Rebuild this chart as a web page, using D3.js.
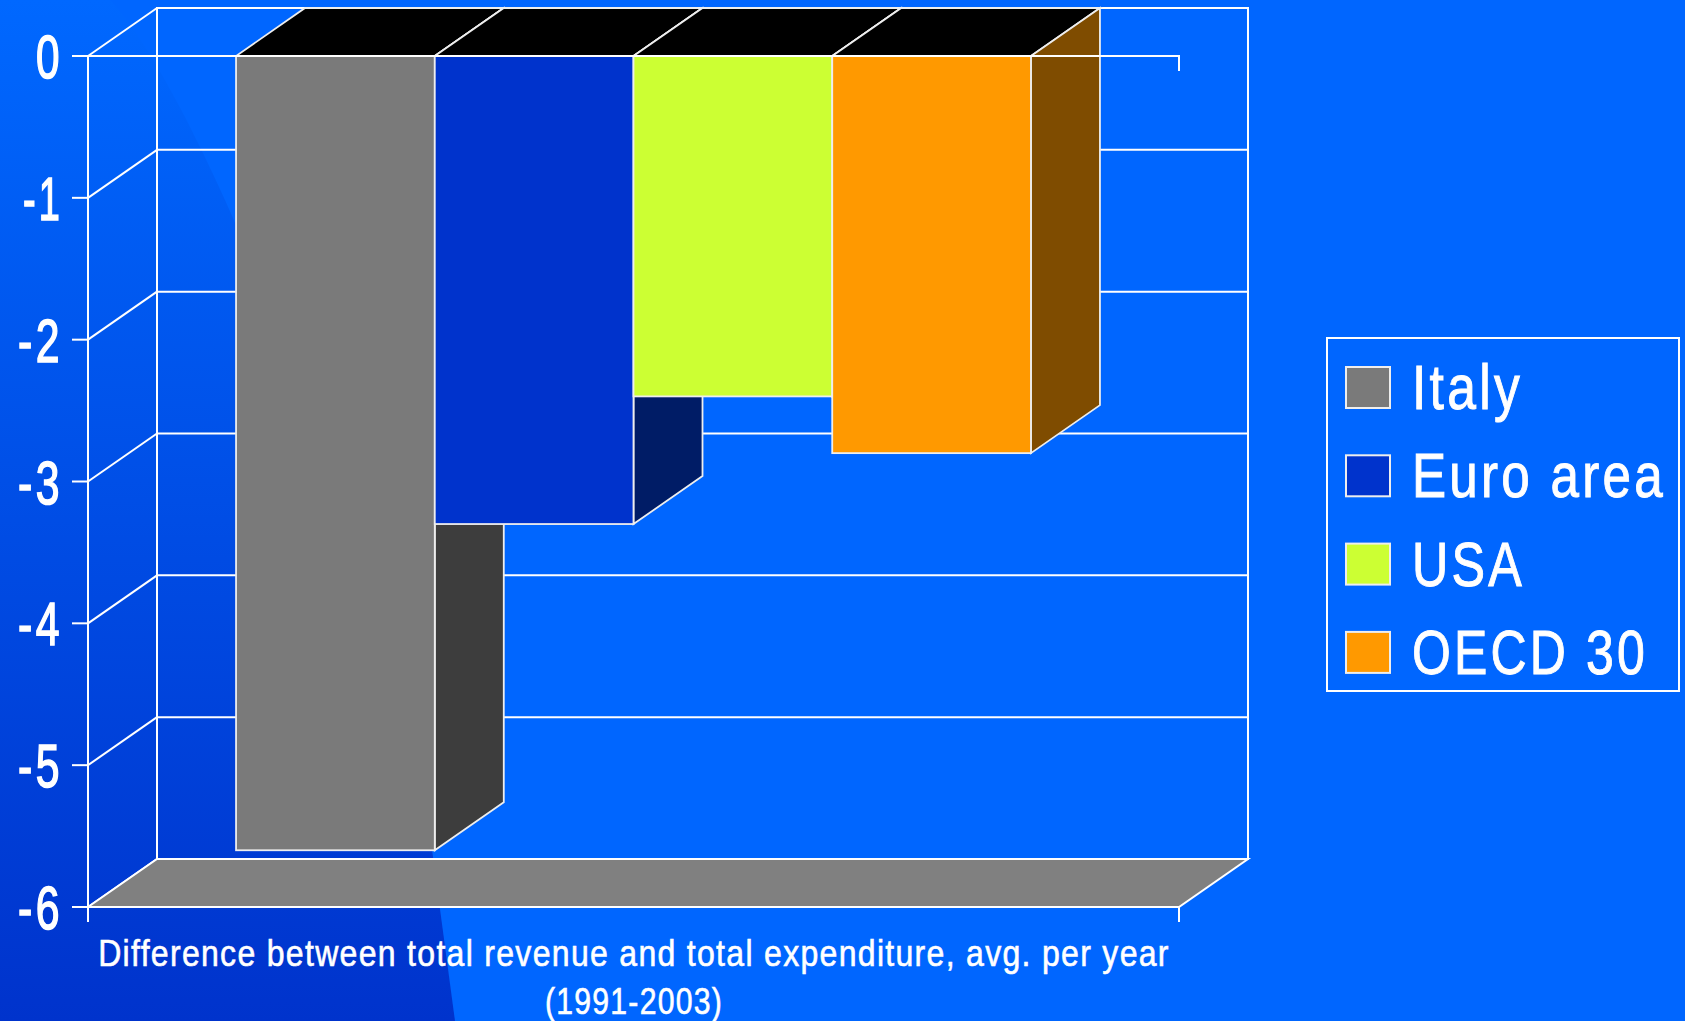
<!DOCTYPE html>
<html>
<head>
<meta charset="utf-8">
<script src="https://cdn.jsdelivr.net/npm/d3@7"></script>
<style>
  html, body { margin: 0; padding: 0; background: #0066ff; overflow: hidden; }
  svg { display: block; }
  text { font-family: "Liberation Sans Narrow", "Arial Narrow", "Liberation Sans", Arial, sans-serif; fill: #ffffff; stroke: #ffffff; }
</style>
</head>
<body>
<svg id="chart" width="1685" height="1021"></svg>
<script>
// Average yearly budget balance (revenue minus expenditure), % points
const categories = ["Italy", "Euro area", "USA", "OECD 30"];
const values = [-5.6, -3.3, -2.4, -2.8];
const yTicks = [0, -1, -2, -3, -4, -5, -6];
const frontColors = ["#7a7a7a", "#0033cc", "#ccff33", "#ff9900"];
const sideColors = ["#3d3d3d", "#001c66", "#667f1a", "#7f4c00"];
const titleLines = [
  "Difference between total revenue and total expenditure, avg. per year",
  "(1991-2003)"
];

const W = 1685, H = 1021;
const svg = d3.select("#chart");

// Plot box (front plane) and the 3D depth offset
const plot = { left: 88, right: 1179, top: 56, bottom: 907 };
const depth = { dx: 69, dy: -48 };
const line = "#ffffff";

const y = d3.scaleLinear().domain([-6, 0]).range([plot.bottom, plot.top]);
const x = d3.scaleBand()
  .domain(categories)
  .range([plot.left, plot.right])
  .paddingInner(0)
  .paddingOuter(0.745);

// Squeeze a text horizontally into a given width (condensed face look)
function fitWidth(node, width, anchorX, baseY) {
  const w = node.getComputedTextLength();
  const k = w > 0 ? width / w : 1;
  d3.select(node).attr("transform", `translate(${anchorX},${baseY}) scale(${k},1)`);
}

// ---- background with darker swoosh on the left ----
const defs = svg.append("defs");
const grad = defs.append("linearGradient")
  .attr("id", "swoosh").attr("x1", 0).attr("y1", 0).attr("x2", 0).attr("y2", 1);
grad.append("stop").attr("offset", "0%").attr("stop-color", "#0068ff");
grad.append("stop").attr("offset", "100%").attr("stop-color", "#0033cc");

svg.append("rect").attr("width", W).attr("height", H).attr("fill", "#0066ff");
svg.append("path")
  .attr("d", "M0,0 L110,0 C190,85 330,420 420,760 L455,1021 L0,1021 Z")
  .attr("fill", "url(#swoosh)");

const P = (pts) => "M" + pts.map(p => p.join(",")).join("L") + "Z";

// ---- back wall ----
const backL = plot.left + depth.dx, backR = plot.right + depth.dx;
const g = svg.append("g");

g.append("rect")
  .attr("x", backL).attr("y", y(0) + depth.dy)
  .attr("width", backR - backL).attr("height", y(-6) - y(0))
  .attr("fill", "none").attr("stroke", line).attr("stroke-width", 2);

g.selectAll(".backgrid").data(yTicks.filter(v => v > -6 && v < 0)).join("line")
  .attr("x1", backL).attr("x2", backR)
  .attr("y1", d => y(d) + depth.dy).attr("y2", d => y(d) + depth.dy)
  .attr("stroke", line).attr("stroke-width", 2);

// ---- left wall diagonals ----
g.selectAll(".sidegrid").data(yTicks).join("line")
  .attr("x1", plot.left).attr("y1", d => y(d))
  .attr("x2", backL).attr("y2", d => y(d) + depth.dy)
  .attr("stroke", line).attr("stroke-width", 2);

// ---- floor ----
g.append("path")
  .attr("d", P([[plot.left, y(-6)], [backL, y(-6) + depth.dy], [backR, y(-6) + depth.dy], [plot.right, y(-6)]]))
  .attr("fill", "#808080").attr("stroke", line).attr("stroke-width", 2);

// ---- bars (left to right so each hides its neighbour's side) ----
const bars = svg.append("g");
categories.forEach((c, i) => {
  const x0 = x(c), x1 = x(c) + x.bandwidth();
  const yt = y(0), yb = y(values[i]);
  const b = bars.append("g");
  b.append("path")
    .attr("d", P([[x0, yt], [x1, yt], [x1 + depth.dx, yt + depth.dy], [x0 + depth.dx, yt + depth.dy]]))
    .attr("fill", "#000000").attr("stroke", "#eeeeee").attr("stroke-width", 1.8);
  b.append("path")
    .attr("d", P([[x1, yt], [x1 + depth.dx, yt + depth.dy], [x1 + depth.dx, yb + depth.dy], [x1, yb]]))
    .attr("fill", sideColors[i]).attr("stroke", "#eeeeee").attr("stroke-width", 1.8);
  b.append("rect")
    .attr("x", x0).attr("y", yt).attr("width", x1 - x0).attr("height", yb - yt)
    .attr("fill", frontColors[i]).attr("stroke", "#eeeeee").attr("stroke-width", 1.8);
});

// ---- front axes ----
const axisG = svg.append("g");
// vertical value axis
axisG.append("line")
  .attr("x1", plot.left).attr("x2", plot.left)
  .attr("y1", y(0)).attr("y2", y(-6) + 15)
  .attr("stroke", line).attr("stroke-width", 2);
// tick marks
axisG.selectAll(".tick").data(yTicks).join("line")
  .attr("x1", plot.left - 16).attr("x2", plot.left)
  .attr("y1", d => y(d)).attr("y2", d => y(d))
  .attr("stroke", line).attr("stroke-width", 2);
// zero line across the front with end tick
axisG.append("path")
  .attr("d", `M${plot.left},${y(0)}H${plot.right}V${y(0) + 15}`)
  .attr("fill", "none").attr("stroke", line).attr("stroke-width", 2);
// category axis along the floor front edge, with end tick
axisG.append("path")
  .attr("d", `M${plot.left},${y(-6)}H${plot.right}V${y(-6) + 15}`)
  .attr("fill", "none").attr("stroke", line).attr("stroke-width", 2);

// tick labels (condensed, right-aligned at x = 60)
const yLabelWidth = d => (d === 0 ? 27 : d === -1 ? 40 : 45);
axisG.selectAll(".ylab").data(yTicks).join("text")
  .attr("text-anchor", "end")
  .attr("font-size", 61)
  .attr("letter-spacing", 5)
  .attr("stroke-width", 1.6)
  .text(d => d3.format("d")(d).replace("\u2212", "-"))
  .each(function (d) { fitWidth(this, yLabelWidth(d), 63, y(d) + 22); });

// ---- category axis title ----
const titleWidths = [1072, 178];
svg.selectAll(".title").data(titleLines).join("text")
  .attr("text-anchor", "middle")
  .attr("font-size", 37)
  .attr("letter-spacing", 1.5)
  .attr("stroke-width", 0.6)
  .text(d => d)
  .each(function (d, i) { fitWidth(this, titleWidths[i], 634, 966 + i * 48); });

// ---- legend ----
const leg = svg.append("g");
leg.append("rect")
  .attr("x", 1327).attr("y", 338).attr("width", 352).attr("height", 353)
  .attr("fill", "none").attr("stroke", line).attr("stroke-width", 2);
const legWidths = [111, 254, 113, 236];
const item = leg.selectAll(".item").data(categories).join("g")
  .attr("transform", (d, i) => `translate(1346, ${367 + i * 88.3})`);
item.append("rect")
  .attr("width", 44).attr("height", 41)
  .attr("fill", (d, i) => frontColors[i])
  .attr("stroke", "#eeeeee").attr("stroke-width", 2);
item.append("text")
  .attr("font-size", 63)
  .attr("letter-spacing", 4)
  .attr("stroke-width", 1)
  .text(d => d)
  .each(function (d, i) { fitWidth(this, legWidths[i], 66, 42); });
</script>
</body>
</html>
